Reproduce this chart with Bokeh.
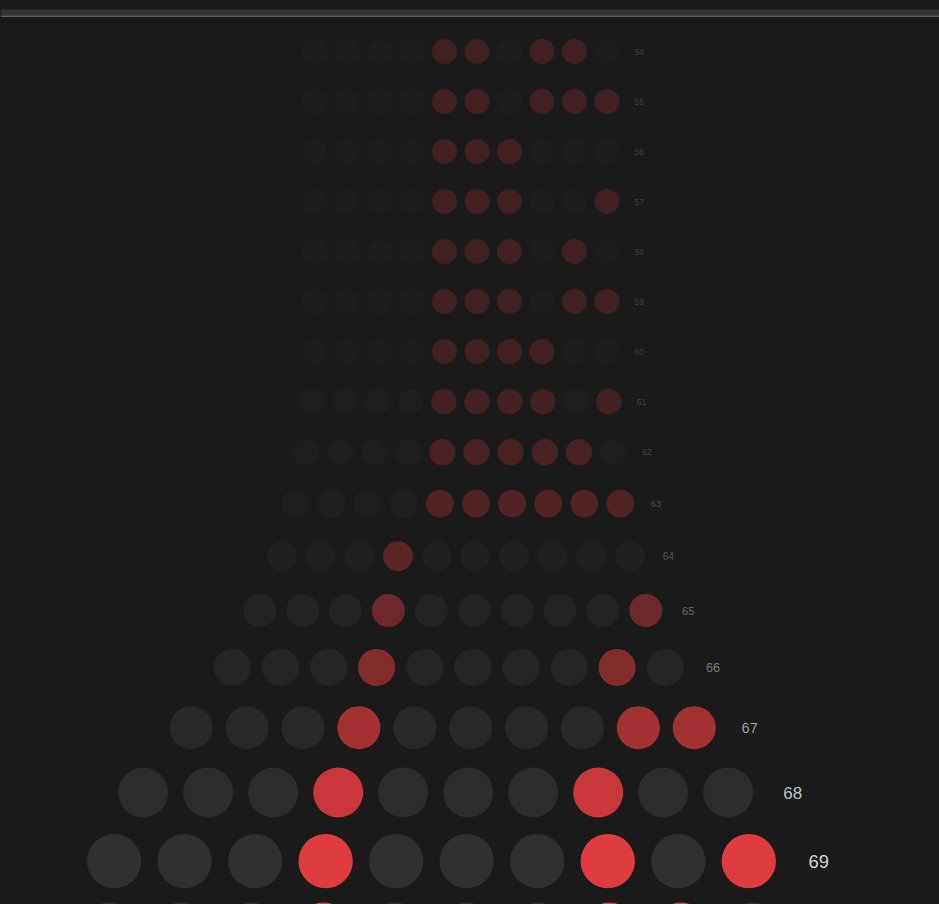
from bokeh.plotting import figure
from bokeh.models import ColumnDataSource, Range1d, BoxAnnotation
from bokeh.embed import file_html
from bokeh.resources import INLINE
from bokeh.core.properties import value

# ---- data ----
row_labels = [54, 55, 56, 57, 58, 59, 60, 61, 62, 63, 64, 65, 66, 67, 68, 69, 70]
row_bits = [
    "0000110110",
    "0000110111",
    "0000111000",
    "0000111001",
    "0000111010",
    "0000111011",
    "0000111100",
    "0000111101",
    "0000111110",
    "0000111111",
    "0001000000",
    "0001000001",
    "0001000010",
    "0001000011",
    "0001000100",
    "0001000101",
    "0001000110",
]

# ---- style: per-row magnification of the list ----
row_scale = [1.0, 1.0, 1.0, 1.0, 1.0, 1.0, 1.0, 1.015, 1.05, 1.11, 1.19, 1.32, 1.48, 1.72, 2.0, 2.17, 2.2]

W, H = 939, 904
BG = "#1a1a1a"
ON = "#e03c40"
OFF = "#302f2e"
TXT = "#dddddd"

base_x0 = 314.0      # first column centre at scale 1
base_step = 32.5     # column spacing at scale 1
base_diam = 25.0
label_base_x = 634.0
origin_x = 485.3     # horizontal origin of magnification
first_y = 51.0

xs, ys, sizes, colors, alphas = [], [], [], [], []
lx, ly, ltxt, lsize, lalpha = [], [], [], [], []
y = first_y
for i, (lab, bits, s) in enumerate(zip(row_labels, row_bits, row_scale)):
    if i > 0:
        y += 32.8 + 8.6 * (row_scale[i - 1] + s) - (1.5 if i == len(row_labels) - 1 else 0.0)
    a = min(1.0, 0.2 + 0.68 * (s - 1.0))
    for j, b in enumerate(bits):
        bx = base_x0 + base_step * j
        xs.append(origin_x + (bx - origin_x) * s)
        ys.append(y)
        sizes.append(base_diam * s)
        colors.append(ON if b == "1" else OFF)
        alphas.append(a)
    fs = 8.5 * s
    if y - fs / 2 < H:  # label lies inside the visible page
        lx.append(origin_x + (label_base_x - origin_x) * s)
        ly.append(y)
        ltxt.append(str(lab))
        lsize.append("%.1fpx" % fs)
        lalpha.append(a)

p = figure(width=W, height=H, output_backend="svg", toolbar_location=None,
           x_range=Range1d(0, W), y_range=Range1d(H, 0), min_border=0,
           x_axis_location=None, y_axis_location=None)
p.grid.visible = False
p.outline_line_color = None
p.background_fill_color = BG
p.border_fill_color = BG

dots = ColumnDataSource(dict(x=xs, y=ys, size=sizes, color=colors, alpha=alphas))
p.scatter("x", "y", size="size", fill_color="color", fill_alpha="alpha",
          line_color=None, source=dots)

labs = ColumnDataSource(dict(x=lx, y=ly, text=ltxt, size=lsize, alpha=lalpha))
p.text("x", "y", text="text", text_font_size="size", text_alpha="alpha",
       text_color=TXT, text_align="left", text_baseline="middle",
       text_font=value("Liberation Sans"), source=labs)

# header strip at the top
p.add_layout(BoxAnnotation(top=9, bottom=15, fill_color="#323232", fill_alpha=1.0, line_color=None))
p.add_layout(BoxAnnotation(top=15, bottom=16.5, fill_color="#5c5c5c", fill_alpha=1.0, line_color=None))

html = file_html(p, INLINE)
css = ("<style>html,body{margin:0;padding:0;background:#1a1a1a;overflow:hidden}"
       "svg,canvas,div{border:none !important;outline:none !important;box-shadow:none !important}</style>")
html = html.replace("<head>", "<head>" + css, 1)
open("out.html", "w").write(html)
